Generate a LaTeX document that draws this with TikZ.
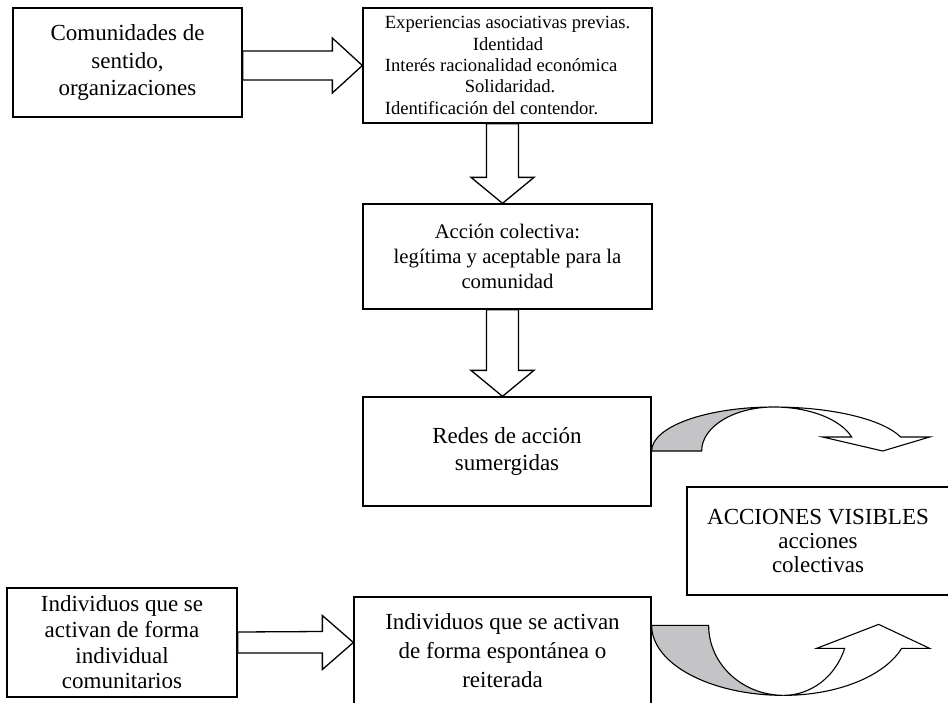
\documentclass[tikz,border=0pt]{standalone}
\usepackage{fontspec}
\setmainfont{Liberation Serif}
\usetikzlibrary{calc}
\definecolor{shade}{RGB}{196,196,198}
\tikzset{
  box/.style={draw, line width=1.3pt, inner sep=0pt, align=center, anchor=center},
  blockarrow/.style={draw, line width=1.3pt, line join=miter, fill=white},
  curvearrow/.style={draw, line width=1.1pt, line join=miter},
  big/.style={font=\fontsize{23}{27.5}\selectfont},
}
\begin{document}
\begin{tikzpicture}[x=1pt,y=-1pt]
\useasboundingbox (0,0) rectangle (948,702);
\clip (0,0) rectangle (948,702);

\node[box, big, minimum width=229pt, minimum height=109pt] (b1) at (127.5,62.5)
  {Comunidades de\\sentido,\\organizaciones};
\node[box, align=left, minimum width=289pt, minimum height=115pt,
      font=\fontsize{18.6}{21.3}\selectfont] (b2) at (507.5,65.5)
  {Experiencias asociativas previas.\\
   \hspace*{88pt}Identidad\\
   Interés racionalidad económica\\
   \hspace*{80pt}Solidaridad.\\
   Identificación del contendor.};
\node[box, minimum width=289pt, minimum height=105pt,
      font=\fontsize{20.7}{25}\selectfont] (b3) at (507.5,256.5)
  {Acción colectiva:\\legítima y aceptable para la\\comunidad};
\node[box, big, minimum width=288pt, minimum height=109pt] (b4) at (507,451.5)
  {Redes de acción\\sumergidas};
\node[box, minimum width=262pt, minimum height=108pt,
      font=\fontsize{23}{24}\selectfont] (b5) at (818,541)
  {ACCIONES VISIBLES\\acciones\\colectivas};
\node[box, minimum width=230pt, minimum height=109pt,
      font=\fontsize{23}{25.6}\selectfont] (b6) at (122,642.5)
  {Individuos que se\\activan de forma\\individual\\comunitarios};
\node[box, minimum width=297pt, minimum height=108pt,
      font=\fontsize{23}{29}\selectfont] (b7) at (502.5,651)
  {Individuos que se activan\\de forma espontánea o\\reiterada};

% block arrow b1 -> b2
\draw[blockarrow] (b2.west) -- ++(-30,-27.5) -- ++(0,13) -- ($(b1.east |- b2.west)+(0,-14.5)$)
  -- ++(0,29) -- ($(b2.west)+(-30,14.5)$) -- ++(0,13) -- cycle;
% block arrow b2 -> b3
\draw[blockarrow] ($(b3.north)+(-5,0)$) -- ++(-31.5,-26) -- ++(15.5,0) -- ($(b2.south)+(-21,0)$)
  -- ++(32,0) -- ($(b3.north)+(11,-26)$) -- ++(15.5,0) -- cycle;
% block arrow b3 -> b4
\draw[blockarrow] ($(b4.north)+(-4.5,0)$) -- ++(-31.5,-26) -- ++(15.5,0) -- ($(b3.south)+(-21,0)$)
  -- ++(32,0) -- ($(b4.north)+(11.5,-26)$) -- ++(15.5,0) -- cycle;
% block arrow b6 -> b7
\draw[blockarrow] (b6.east -| b7.west) -- ++(-31,-27) -- ++(0,16) -- ($(b6.east)+(0,-10.5)$)
  -- ++(0,21) -- ($(b6.east -| b7.west)+(-31,10.5)$) -- ++(0,16.5) -- cycle;

% curved arrow from b4 towards b5
\begin{scope}[shift={($(b4.east)+(0,-0.5)$)}]
  \filldraw[curvearrow, fill=shade] (0,0) .. controls (0,-24.3) and (54.6,-44) .. (122,-44)
    .. controls (82.2,-44) and (50,-24.3) .. (50,0) -- cycle;
  \draw[curvearrow] (122,-44) .. controls (179.7,-44) and (230.7,-32) .. (249,-14)
    -- (278,-14) -- (231,0) -- (171,-14) -- (200,-14)
    .. controls (188.8,-32) and (157.3,-44) .. (122,-44);
\end{scope}

% curved arrow from b7 towards b5
\begin{scope}[shift={($(b7.north east)+(0,29)$)}]
  \filldraw[curvearrow, fill=shade] (0,0) .. controls (0,38.7) and (59.1,70) .. (132,70)
    .. controls (90.6,70) and (57,38.7) .. (57,0) -- cycle;
  \draw[curvearrow] (132,70) .. controls (185.2,70) and (232.5,51.1) .. (250,23)
    -- (278,23) -- (227,-1) -- (165,23) -- (193,23)
    .. controls (184,51.1) and (159.5,70) .. (132,70);
\end{scope}
\end{tikzpicture}
\end{document}
